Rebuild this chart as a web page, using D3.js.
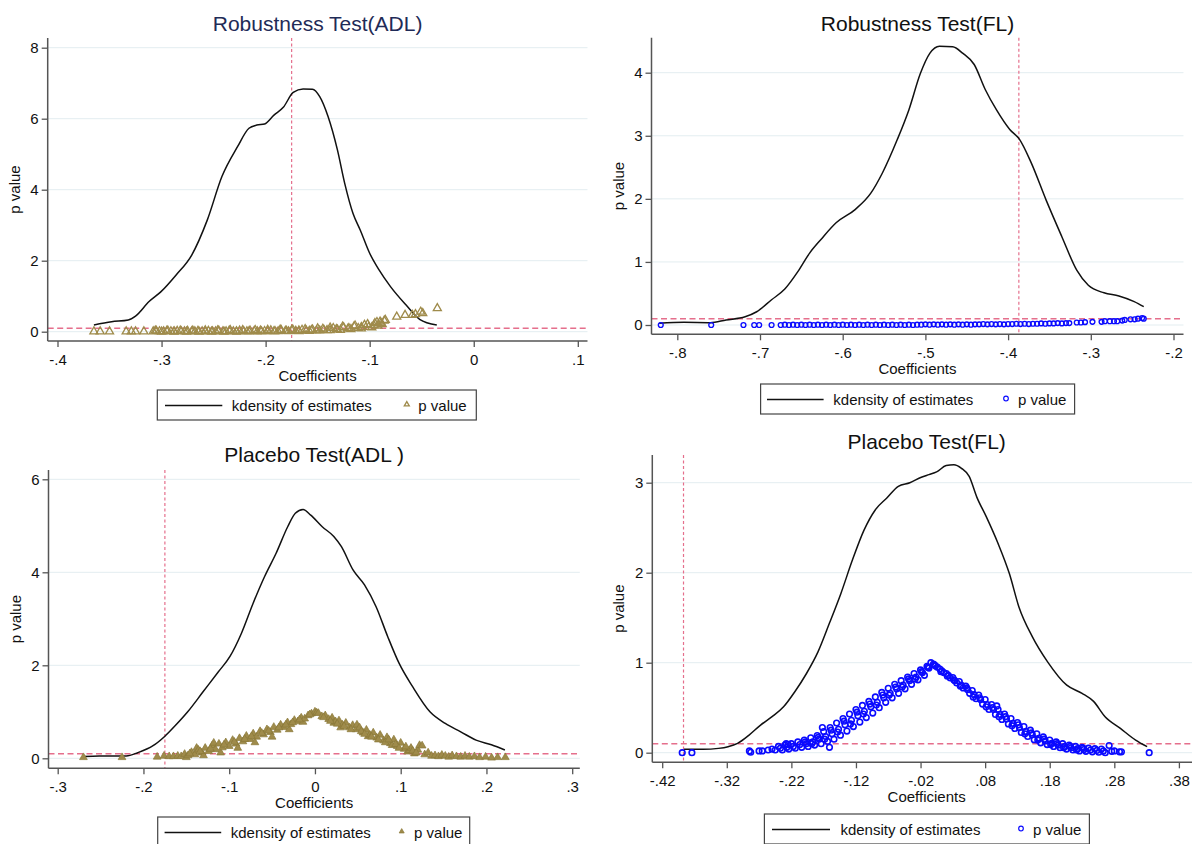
<!DOCTYPE html>
<html>
<head>
<meta charset="utf-8">
<script src="https://cdn.jsdelivr.net/npm/d3@7"></script>
<style>
body {
  margin: 0;
  background-color: white;
}
svg text {
  font-family: "Liberation Sans", Arial, sans-serif;
}
</style>
</head>
<body>
<script>

// ---- data ----
const cutoffP = 0.1;

// Robustness Test (ADL)
const adlRobXTicks = [-0.4, -0.3, -0.2, -0.1, 0, 0.1];
const adlRobYTicks = [0, 2, 4, 6, 8];
const adlRobRefX = -0.175;
const adlRobDensity = [[-0.365,0.19],[-0.348,0.28],[-0.332,0.33],[-0.325,0.44],[-0.312,0.85],[-0.3005,1.13],[-0.286,1.6],[-0.271,2.16],[-0.256,3.15],[-0.242,4.37],[-0.227,5.21],[-0.216,5.73],[-0.2085,5.82],[-0.201,5.85],[-0.192,6.10],[-0.183,6.32],[-0.1735,6.74],[-0.164,6.84],[-0.155,6.83],[-0.148,6.62],[-0.140,6.06],[-0.131,5.12],[-0.124,4.18],[-0.116,3.33],[-0.109,2.86],[-0.100,2.21],[-0.091,1.74],[-0.080,1.27],[-0.065,0.75],[-0.052,0.35],[-0.0355,0.19]];
const adlRobP = [[-0.365,0.005],[-0.359,0.005],[-0.350,0.005],[-0.334,0.005],[-0.329,0.005],[-0.325,0.005],[-0.317,0.005],
[-0.308,0.005],[-0.305,0.02],[-0.302,0.01],[-0.298,0.005],[-0.295,0.02],[-0.291,0.01],[-0.288,0.005],[-0.285,0.02],[-0.281,0.01],[-0.278,0.005],[-0.275,0.02],[-0.271,0.01],[-0.268,0.005],[-0.265,0.02],[-0.261,0.01],[-0.258,0.005],[-0.255,0.02],[-0.251,0.01],[-0.248,0.005],[-0.245,0.025],[-0.241,0.01],[-0.238,0.005],[-0.235,0.025],[-0.231,0.01],[-0.228,0.005],[-0.225,0.025],[-0.221,0.01],[-0.218,0.005],[-0.215,0.03],[-0.211,0.015],[-0.208,0.005],[-0.205,0.03],[-0.201,0.015],[-0.198,0.01],[-0.195,0.035],[-0.191,0.015],[-0.188,0.01],[-0.185,0.04],[-0.181,0.02],[-0.178,0.01],[-0.175,0.045],[-0.171,0.02],[-0.168,0.015],[-0.165,0.05],[-0.161,0.025],[-0.158,0.02],[-0.155,0.06],[-0.151,0.03],[-0.148,0.03],[-0.145,0.08],[-0.141,0.04],[-0.138,0.04],[-0.135,0.10],[-0.131,0.06],[-0.128,0.05],[-0.125,0.12],[-0.121,0.08],[-0.118,0.07],[-0.115,0.15],[-0.111,0.10],[-0.108,0.09],[-0.105,0.19],[-0.101,0.13],[-0.098,0.12],[-0.095,0.24],[-0.092,0.17],[-0.090,0.28],[-0.088,0.21],[-0.086,0.31],[-0.085,0.33],
[-0.306,0.03],[-0.300,0.0],[-0.294,0.03],[-0.288,0.0],[-0.282,0.03],[-0.276,0.0],[-0.270,0.03],[-0.264,0.0],[-0.258,0.035],[-0.252,0.0],[-0.246,0.035],[-0.240,0.0],[-0.234,0.04],[-0.228,0.0],[-0.222,0.04],[-0.216,0.01],[-0.210,0.045],[-0.204,0.01],[-0.198,0.05],[-0.192,0.01],[-0.186,0.055],[-0.180,0.02],[-0.174,0.06],[-0.168,0.03],[-0.162,0.07],[-0.156,0.04],[-0.150,0.09],[-0.144,0.05],[-0.138,0.11],[-0.132,0.07],[-0.126,0.14],[-0.120,0.10],[-0.114,0.17],[-0.108,0.13],[-0.102,0.21],[-0.096,0.18],[-0.093,0.27],[-0.089,0.24],
[-0.074,0.42],[-0.066,0.47],[-0.059,0.47],[-0.056,0.49],[-0.051,0.56],[-0.049,0.52],[-0.035,0.66]];

// Robustness Test (FL)
const flRobXTicks = [-0.8, -0.7, -0.6, -0.5, -0.4, -0.3, -0.2];
const flRobYTicks = [0, 1, 2, 3, 4];
const flRobRefX = -0.387;
const flRobDensity = [[-0.822,0.026],[-0.792,0.042],[-0.760,0.037],[-0.741,0.079],[-0.718,0.13],[-0.704,0.21],[-0.686,0.40],[-0.670,0.57],[-0.654,0.85],[-0.640,1.14],[-0.626,1.36],[-0.608,1.62],[-0.585,1.83],[-0.566,2.09],[-0.552,2.41],[-0.534,2.94],[-0.520,3.41],[-0.506,3.99],[-0.4945,4.31],[-0.483,4.42],[-0.467,4.41],[-0.455,4.31],[-0.441,4.13],[-0.4275,3.73],[-0.414,3.41],[-0.398,3.10],[-0.386,2.94],[-0.372,2.57],[-0.354,1.98],[-0.335,1.40],[-0.317,0.87],[-0.303,0.63],[-0.284,0.51],[-0.266,0.46],[-0.2475,0.37],[-0.236,0.29]];
const flRobP = [[-0.820,0.0],[-0.759,0.0],[-0.720,0.0],[-0.707,0.0],[-0.701,0.0],[-0.686,0.0],
[-0.675,0.0],[-0.670,0.005],[-0.665,0.0],[-0.660,0.005],[-0.655,0.0],[-0.650,0.005],[-0.645,0.0],[-0.640,0.005],[-0.635,0.0],[-0.630,0.005],[-0.625,0.0],[-0.620,0.005],[-0.615,0.0],[-0.610,0.005],[-0.605,0.0],[-0.600,0.005],[-0.595,0.0],[-0.590,0.005],[-0.585,0.0],[-0.580,0.005],[-0.575,0.0],[-0.570,0.005],[-0.565,0.0],[-0.560,0.005],[-0.555,0.0],[-0.550,0.005],[-0.545,0.0],[-0.540,0.005],[-0.535,0.0],[-0.530,0.005],[-0.525,0.0],[-0.520,0.005],[-0.515,0.0],[-0.510,0.005],[-0.505,0.005],[-0.500,0.01],[-0.495,0.005],[-0.490,0.01],[-0.485,0.005],[-0.480,0.01],[-0.475,0.005],[-0.470,0.01],[-0.465,0.005],[-0.460,0.01],[-0.455,0.005],[-0.450,0.01],[-0.445,0.005],[-0.440,0.01],[-0.435,0.01],[-0.430,0.015],[-0.425,0.01],[-0.420,0.015],[-0.415,0.01],[-0.410,0.015],[-0.405,0.01],[-0.400,0.015],[-0.395,0.015],[-0.390,0.02],[-0.385,0.015],[-0.380,0.02],[-0.375,0.015],[-0.370,0.02],[-0.365,0.02],[-0.360,0.025],[-0.355,0.02],[-0.350,0.025],[-0.345,0.025],[-0.340,0.03],[-0.335,0.025],[-0.330,0.03],
[-0.326,0.03],[-0.317,0.04],[-0.312,0.04],[-0.307,0.045],[-0.298,0.05],[-0.287,0.05],[-0.283,0.06],[-0.277,0.06],[-0.272,0.06],[-0.268,0.06],[-0.262,0.07],[-0.259,0.08],[-0.252,0.09],[-0.247,0.09],[-0.243,0.10],[-0.238,0.11],[-0.236,0.10]];

// Placebo Test (ADL)
const adlPlaXTicks = [-0.3, -0.2, -0.1, 0, 0.1, 0.2, 0.3];
const adlPlaYTicks = [0, 2, 4, 6];
const adlPlaRefX = -0.175;
const adlPlaDensity = [[-0.2695,0.036],[-0.2516,0.05],[-0.2336,0.05],[-0.220,0.05],[-0.2067,0.12],[-0.1888,0.27],[-0.1753,0.47],[-0.162,0.72],[-0.1484,1.00],[-0.1305,1.43],[-0.1126,1.86],[-0.0991,2.19],[-0.0857,2.69],[-0.0722,3.33],[-0.0587,3.91],[-0.0453,4.41],[-0.0318,4.98],[-0.0229,5.27],[-0.0139,5.35],[-0.0049,5.23],[0.0085,4.98],[0.0220,4.77],[0.0309,4.55],[0.0444,4.05],[0.0578,3.73],[0.0713,3.26],[0.0848,2.62],[0.0982,2.04],[0.1139,1.54],[0.1341,1.00],[0.1520,0.75],[0.1700,0.57],[0.1879,0.39],[0.2058,0.29],[0.2215,0.18]];
const adlPlaP = [[-0.270,0.02],[-0.225,0.02],[-0.184,0.03],[-0.176,0.05],[-0.170,0.04],[-0.165,0.04],
[-0.160,0.05],[-0.156,0.04],[-0.152,0.09],[-0.150,0.02],[-0.148,0.06],[-0.144,0.13],[-0.140,0.08],[-0.138,0.22],[-0.136,0.18],[-0.132,0.12],[-0.130,0.06],[-0.128,0.22],[-0.124,0.15],[-0.120,0.27],[-0.118,0.33],[-0.116,0.19],[-0.112,0.31],[-0.110,0.12],[-0.108,0.23],[-0.104,0.34],[-0.100,0.26],[-0.096,0.39],[-0.092,0.31],[-0.090,0.22],[-0.088,0.43],[-0.084,0.36],[-0.080,0.48],[-0.076,0.41],[-0.072,0.53],[-0.070,0.34],[-0.068,0.46],[-0.064,0.58],[-0.060,0.51],[-0.056,0.62],[-0.052,0.56],[-0.050,0.46],[-0.048,0.67],[-0.044,0.61],[-0.040,0.72],[-0.036,0.67],[-0.032,0.77],[-0.030,0.62],[-0.028,0.73],[-0.024,0.82],[-0.020,0.79],[-0.016,0.87],[-0.014,0.78],[-0.012,0.85],[-0.008,0.92],[-0.004,0.96],[0.000,1.0],
[-0.146,0.10],[-0.134,0.15],[-0.122,0.20],[-0.106,0.29],[-0.094,0.35],[-0.082,0.41],[-0.074,0.47],[-0.062,0.54],[-0.054,0.59],[-0.042,0.66],[-0.034,0.72],[-0.026,0.77],[-0.018,0.83],[-0.006,0.94],[0.002,0.98],
[0.004,0.97],[0.008,0.90],[0.012,0.92],[0.016,0.84],[0.020,0.87],[0.022,0.76],[0.024,0.79],[0.028,0.81],[0.030,0.66],[0.032,0.72],[0.036,0.76],[0.040,0.66],[0.044,0.71],[0.048,0.62],[0.049,0.72],[0.052,0.66],[0.056,0.55],[0.060,0.61],[0.062,0.47],[0.064,0.50],[0.068,0.55],[0.072,0.44],[0.076,0.50],[0.080,0.38],[0.084,0.45],[0.088,0.32],[0.090,0.28],[0.092,0.40],[0.096,0.26],[0.100,0.33],[0.104,0.20],[0.108,0.14],[0.110,0.17],[0.112,0.22],[0.116,0.10],[0.120,0.18],[0.122,0.28],[0.125,0.27],[0.128,0.08],[0.132,0.12],[0.136,0.05],
[0.010,0.88],[0.018,0.80],[0.026,0.74],[0.034,0.69],[0.042,0.62],[0.054,0.58],[0.058,0.52],[0.066,0.46],[0.074,0.40],[0.082,0.34],[0.086,0.40],[0.094,0.30],[0.098,0.22],[0.106,0.25],[0.114,0.16],[0.118,0.12],
[0.140,0.06],[0.144,0.04],[0.148,0.07],[0.152,0.05],[0.156,0.03],[0.160,0.06],[0.165,0.04],[0.170,0.03],[0.175,0.05],[0.180,0.03],[0.186,0.04],[0.192,0.02],[0.199,0.03],[0.206,0.01],[0.213,0.02],[0.222,0.02]];

// Placebo Test (FL)
const flPlaXTicks = [-0.42, -0.32, -0.22, -0.12, -0.02, 0.08, 0.18, 0.28, 0.38];
const flPlaYTicks = [0, 1, 2, 3];
const flPlaRefX = -0.387;
const flPlaDensity = [[-0.3862,0.037],[-0.3566,0.037],[-0.3329,0.048],[-0.3181,0.067],[-0.3033,0.104],[-0.2855,0.196],[-0.2677,0.307],[-0.2499,0.40],[-0.2321,0.51],[-0.2144,0.68],[-0.1966,0.88],[-0.1788,1.12],[-0.1610,1.44],[-0.1433,1.77],[-0.1255,2.14],[-0.1077,2.47],[-0.0899,2.70],[-0.0722,2.83],[-0.0544,2.96],[-0.0366,3.00],[-0.0188,3.06],[-0.0070,3.09],[0.0049,3.12],[0.0197,3.19],[0.0316,3.20],[0.0434,3.16],[0.0553,3.07],[0.0671,2.84],[0.0819,2.62],[0.0997,2.33],[0.1175,1.99],[0.1323,1.62],[0.1530,1.29],[0.1767,1.01],[0.2064,0.75],[0.2301,0.66],[0.2479,0.57],[0.2657,0.40],[0.2894,0.27],[0.3130,0.14],[0.3308,0.067]];
const flPlaP = [[-0.389,0.0],[-0.374,0.0],[-0.285,0.02],[-0.283,0.005],[-0.270,0.02],[-0.265,0.02],[-0.256,0.03],[-0.250,0.04],[-0.245,0.03],
[-0.240,0.07],[-0.237,0.05],[-0.234,0.03],[-0.230,0.085],[-0.227,0.06],[-0.224,0.04],[-0.228,0.10],[-0.225,0.09],
[-0.220,0.10],[-0.217,0.07],[-0.214,0.05],[-0.210,0.12],[-0.207,0.09],[-0.204,0.06],[-0.200,0.14],[-0.197,0.10],[-0.194,0.07],
[-0.190,0.165],[-0.187,0.12],[-0.184,0.085],[-0.180,0.19],[-0.177,0.15],[-0.174,0.10],[-0.172,0.28],[-0.170,0.235],[-0.167,0.18],[-0.164,0.125],[-0.161,0.06],
[-0.160,0.28],[-0.157,0.21],[-0.154,0.15],[-0.150,0.33],[-0.147,0.26],[-0.144,0.195],[-0.140,0.38],[-0.137,0.31],[-0.134,0.24],
[-0.130,0.43],[-0.127,0.36],[-0.124,0.29],[-0.120,0.48],[-0.117,0.41],[-0.114,0.34],[-0.110,0.525],[-0.107,0.46],[-0.104,0.39],
[-0.100,0.57],[-0.097,0.51],[-0.094,0.44],[-0.090,0.62],[-0.087,0.56],[-0.084,0.50],[-0.080,0.67],[-0.077,0.61],[-0.074,0.56],
[-0.070,0.715],[-0.067,0.66],[-0.064,0.61],[-0.060,0.76],[-0.057,0.71],[-0.054,0.66],[-0.050,0.80],[-0.047,0.75],[-0.044,0.71],
[-0.040,0.84],[-0.037,0.80],[-0.034,0.76],[-0.030,0.88],[-0.027,0.84],[-0.024,0.81],[-0.020,0.92],[-0.017,0.89],[-0.014,0.86],
[-0.010,0.96],[-0.007,0.94],[-0.004,1.0],[0.000,0.985],[0.003,0.965],[0.006,0.95],[0.010,0.93],[0.013,0.91],[0.016,0.89],
[0.020,0.88],[0.023,0.86],[0.026,0.83],[0.030,0.835],[0.033,0.80],[0.036,0.775],[0.040,0.79],[0.043,0.75],[0.046,0.72],
[0.050,0.74],[0.053,0.70],[0.056,0.66],[0.060,0.69],[0.063,0.645],[0.066,0.60],[0.070,0.64],[0.073,0.59],[0.076,0.54],
[0.080,0.59],[0.083,0.535],[0.086,0.48],[0.090,0.535],[0.093,0.48],[0.096,0.425],[0.098,0.52],
[0.100,0.48],[0.103,0.425],[0.106,0.37],[0.110,0.43],[0.113,0.375],[0.116,0.32],[0.120,0.38],[0.123,0.325],[0.126,0.27],
[0.130,0.335],[0.133,0.28],[0.136,0.225],[0.140,0.29],[0.143,0.235],[0.146,0.18],[0.150,0.25],[0.153,0.20],[0.156,0.145],
[0.160,0.21],[0.163,0.16],[0.166,0.11],[0.170,0.175],[0.173,0.13],[0.176,0.09],[0.180,0.14],[0.183,0.105],[0.186,0.07],
[0.190,0.12],[0.193,0.085],[0.196,0.055],[0.200,0.10],[0.203,0.07],[0.206,0.04],[0.210,0.085],[0.213,0.055],[0.216,0.03],
[0.220,0.07],[0.223,0.045],[0.226,0.02],[0.230,0.06],[0.233,0.035],[0.236,0.015],[0.240,0.05],[0.243,0.03],[0.246,0.01],
[0.250,0.045],[0.253,0.025],[0.256,0.005],[0.260,0.04],[0.263,0.02],[0.266,0.0],
[-0.1985,0.12],[-0.1885,0.10],[-0.1785,0.17],[-0.1685,0.15],[-0.1585,0.25],[-0.1485,0.23],[-0.1385,0.35],[-0.1285,0.32],[-0.1185,0.45],[-0.1085,0.43],[-0.0985,0.54],[-0.0885,0.53],[-0.0785,0.64],[-0.0685,0.64],[-0.0585,0.73],[-0.0485,0.73],[-0.0385,0.82],[-0.0285,0.82],[-0.0185,0.90],[-0.0085,0.95],
[0.0015,0.975],[0.0115,0.90],[0.0215,0.85],[0.0315,0.81],[0.0415,0.74],[0.0515,0.72],[0.0615,0.62],[0.0715,0.61],[0.0815,0.51],[0.0915,0.50],[0.1015,0.40],[0.1115,0.40],[0.1215,0.30],[0.1315,0.31],[0.1415,0.21],[0.1515,0.22],[0.1615,0.14],[0.1715,0.15],[0.1815,0.09],[0.1915,0.10],[0.2015,0.055],[0.2115,0.07],[0.2215,0.03],[0.2315,0.05],
[0.272,0.08],[0.276,0.015],[0.280,0.02],[0.288,0.01],[0.291,0.01],[0.334,0.0]];

// ---- styling ----
const olive = "#9f8b4b";
const blue = "#0a0aff";
const pink = "#e56f8c";
const axisColor = "#555";
const gridColor = "#e3edf0";

// Stata style labels: -.4, 0, .1
const stata = v => String(Math.round(v * 100) / 100).replace(/^(-?)0\./, "$1.");

const panels = [
  {title: "Robustness Test(ADL)", titleColor: "#1f2b57", titleY: 31,
   xDomain: [-0.4, 0.1], xPx: [57.5, 577.8], xTicks: adlRobXTicks,
   yDomain: [0, 8], yPx: [331.7, 47.7], yTicks: adlRobYTicks,
   frame: {left: 47.7, right: 587.5, top: 38, bottom: 341},
   refX: adlRobRefX, density: adlRobDensity, pvals: adlRobP, marker: "triHollow", color: olive,
   legend: {x: 157.3, y: 390, w: 319, line: [7.7, 65], text: 74.5, mark: 249.5, ptext: 261}},
  {title: "Robustness Test(FL)", titleColor: "#111", titleY: 31,
   xDomain: [-0.8, -0.2], xPx: [677.3, 1173.5], xTicks: flRobXTicks,
   yDomain: [0, 4], yPx: [325, 72.7], yTicks: flRobYTicks,
   frame: {left: 651.5, right: 1183.5, top: 37.7, bottom: 334.3},
   refX: flRobRefX, density: flRobDensity, pvals: flRobP, marker: "circle", color: blue,
   legend: {x: 760.6, y: 384, w: 314, line: [6.4, 63], text: 72.7, mark: 245.4, ptext: 257.4}},
  {title: "Placebo Test(ADL )", titleColor: "#111", titleY: 462,
   xDomain: [-0.3, 0.3], xPx: [57.7, 572.2], xTicks: adlPlaXTicks,
   yDomain: [0, 6], yPx: [758.3, 479.3], yTicks: adlPlaYTicks,
   frame: {left: 48.5, right: 579.8, top: 470, bottom: 768.3},
   refX: adlPlaRefX, density: adlPlaDensity, pvals: adlPlaP, marker: "triFilled", color: olive,
   legend: {x: 157.7, y: 817, w: 312, line: [6.9, 63.5], text: 73, mark: 244, ptext: 256.4}},
  {title: "Placebo Test(FL)", titleColor: "#111", titleY: 449,
   xDomain: [-0.42, 0.38], xPx: [662.2, 1178.9], xTicks: flPlaXTicks,
   yDomain: [0, 3], yPx: [752.7, 482.7], yTicks: flPlaYTicks,
   frame: {left: 652.3, right: 1201, top: 455, bottom: 762.3},
   refX: flPlaRefX, density: flPlaDensity, pvals: flPlaP, marker: "circleBig", color: blue,
   legend: {x: 764.4, y: 814, w: 325, line: [7.6, 65.6], text: 76, mark: 256.6, ptext: 268.6}}
];

const svg = d3.select("body")
            .append("svg")
            .attr("width", 1192)
            .attr("height", 844);

function drawMarker(sel, kind, color, small) {
  if (kind === "triHollow" || kind === "triFilled") {
    const size = small ? 11 : (kind === "triHollow" ? 28 : 26);
    sel.append("path")
       .attr("d", d3.symbol(d3.symbolTriangle, size)())
       .attr("fill", kind === "triFilled" ? color : "none")
       .attr("stroke", kind === "triFilled" ? "#8a7838" : color)
       .attr("stroke-width", kind === "triFilled" ? 0.7 : 1.3);
  } else {
    sel.append("circle")
       .attr("r", small ? 2.3 : (kind === "circleBig" ? 2.8 : 2.4))
       .attr("fill", "none")
       .attr("stroke", color)
       .attr("stroke-width", small ? 1.2 : (kind === "circleBig" ? 1.6 : 1.4));
  }
}

panels.forEach(p => {
  const g = svg.append("g");
  const f = p.frame;
  const x = d3.scaleLinear().domain(p.xDomain).range(p.xPx);
  const y = d3.scaleLinear().domain(p.yDomain).range(p.yPx);
  const cx = (f.left + f.right) / 2;

  // grid lines
  g.selectAll(".grid").data(p.yTicks).join("line")
   .attr("x1", f.left).attr("x2", f.right)
   .attr("y1", d => y(d)).attr("y2", d => y(d))
   .attr("stroke", gridColor).attr("stroke-width", 1);

  // reference lines
  g.append("line")
   .attr("x1", f.left).attr("x2", f.right)
   .attr("y1", y(cutoffP)).attr("y2", y(cutoffP))
   .attr("stroke", pink).attr("stroke-width", 1.5)
   .attr("stroke-dasharray", "6,3.5");
  g.append("line")
   .attr("x1", x(p.refX)).attr("x2", x(p.refX))
   .attr("y1", f.top).attr("y2", f.bottom)
   .attr("stroke", pink).attr("stroke-width", 1.2)
   .attr("stroke-dasharray", "3,2.5");

  // kdensity curve
  g.append("path")
   .datum(p.density)
   .attr("d", d3.line().x(d => x(d[0])).y(d => y(d[1])).curve(d3.curveMonotoneX))
   .attr("fill", "none")
   .attr("stroke", "#111")
   .attr("stroke-width", 1.5);

  // p values
  g.selectAll(".pt").data(p.pvals).join("g")
   .attr("transform", d => `translate(${x(d[0])},${y(d[1])})`)
   .each(function() { drawMarker(d3.select(this), p.marker, p.color, false); });

  // axes
  const xa = g.append("g")
     .attr("transform", `translate(0,${f.bottom})`)
     .call(d3.axisBottom(x).tickValues(p.xTicks).tickFormat(stata).tickSize(6).tickSizeOuter(0));
  xa.select(".domain").remove();
  xa.selectAll("line").attr("stroke", axisColor).attr("stroke-width", 1.3);
  xa.selectAll("text")
    .attr("y", 23.5).attr("dy", null)
    .attr("font-size", 15).attr("fill", "#111");
  xa.attr("font-family", null);

  const ya = g.append("g")
     .attr("transform", `translate(${f.left},0)`)
     .call(d3.axisLeft(y).tickValues(p.yTicks).tickFormat(stata).tickSize(6).tickSizeOuter(0));
  ya.select(".domain").remove();
  ya.selectAll("line").attr("stroke", axisColor).attr("stroke-width", 1.3);
  ya.selectAll("text").attr("font-size", 15).attr("fill", "#111");
  ya.attr("font-family", null);

  g.append("line")
   .attr("x1", f.left).attr("x2", f.left).attr("y1", f.top).attr("y2", f.bottom)
   .attr("stroke", axisColor).attr("stroke-width", 1.5);
  g.append("line")
   .attr("x1", f.left).attr("x2", f.right).attr("y1", f.bottom).attr("y2", f.bottom)
   .attr("stroke", axisColor).attr("stroke-width", 1.5);

  // titles and labels
  g.append("text")
   .attr("x", cx).attr("y", p.titleY)
   .attr("text-anchor", "middle")
   .attr("font-size", 21)
   .attr("fill", p.titleColor)
   .text(p.title);
  g.append("text")
   .attr("x", cx).attr("y", f.bottom + 39.5)
   .attr("text-anchor", "middle")
   .attr("font-size", 15).attr("fill", "#111")
   .text("Coefficients");
  g.append("text")
   .attr("transform", `translate(${f.left - 28},${(f.top + f.bottom) / 2}) rotate(-90)`)
   .attr("text-anchor", "middle")
   .attr("font-size", 15).attr("fill", "#111")
   .text("p value");

  // legend
  const L = p.legend;
  const lg = g.append("g").attr("transform", `translate(${L.x},${L.y})`);
  lg.append("rect")
    .attr("width", L.w).attr("height", 30)
    .attr("fill", "white").attr("stroke", "#444").attr("stroke-width", 1.2);
  lg.append("line")
    .attr("x1", L.line[0]).attr("x2", L.line[1]).attr("y1", 15.5).attr("y2", 15.5)
    .attr("stroke", "#111").attr("stroke-width", 1.5);
  lg.append("text")
    .attr("x", L.text).attr("y", 20.5)
    .attr("font-size", 15).attr("fill", "#111")
    .text("kdensity of estimates");
  const mk = lg.append("g").attr("transform", `translate(${L.mark},14.5)`);
  drawMarker(mk, p.marker, p.color, true);
  lg.append("text")
    .attr("x", L.ptext).attr("y", 20.5)
    .attr("font-size", 15).attr("fill", "#111")
    .text("p value");
});

</script>
</body>
</html>
